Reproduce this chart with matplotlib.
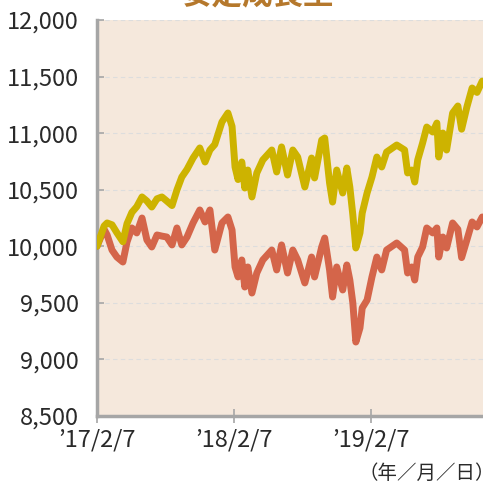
import numpy as np
import matplotlib.pyplot as plt
import matplotlib.dates as mdates

plt.rcParams['font.family'] = ['Noto Sans CJK JP', 'DejaVu Sans']

title = "安定成長型"
unit_note = "（年／月／日）"

dates = np.array([
    "2017-02-07", "2017-02-26", "2017-03-06", "2017-03-19", "2017-04-01",
    "2017-04-17", "2017-04-28", "2017-05-11", "2017-05-24", "2017-06-07",
    "2017-06-20", "2017-07-03", "2017-07-17", "2017-07-30", "2017-08-12",
    "2017-08-26", "2017-09-08", "2017-09-21", "2017-10-05", "2017-10-21",
    "2017-11-08", "2017-11-22", "2017-12-05", "2017-12-18", "2018-01-06",
    "2018-01-22", "2018-02-02", "2018-02-10", "2018-02-18", "2018-02-28",
    "2018-03-08", "2018-03-16", "2018-03-27", "2018-04-09", "2018-04-25",
    "2018-05-19", "2018-06-01", "2018-06-14", "2018-06-30", "2018-07-14",
    "2018-07-27", "2018-08-15", "2018-09-02", "2018-09-10", "2018-09-29",
    "2018-10-07", "2018-10-20", "2018-10-28", "2018-11-08", "2018-11-24",
    "2018-12-05", "2018-12-13", "2018-12-21", "2018-12-29", "2019-01-09",
    "2019-01-15", "2019-01-28", "2019-02-10", "2019-02-23", "2019-03-08",
    "2019-03-21", "2019-04-17", "2019-05-08", "2019-05-16", "2019-05-27",
    "2019-06-04", "2019-06-12", "2019-06-25", "2019-07-06", "2019-07-22",
    "2019-08-02", "2019-08-07", "2019-08-18", "2019-08-28", "2019-09-13",
    "2019-09-27", "2019-10-07", "2019-10-21", "2019-11-04", "2019-11-17",
    "2019-12-01",
], dtype="datetime64[D]")

# upper (yellow) series
series_a = [
    10000, 10180, 10206, 10190, 10120, 10040, 10200, 10300, 10350, 10436,
    10400, 10347, 10420, 10436, 10400, 10360, 10497, 10612, 10680, 10780,
    10869, 10745, 10851, 10900, 11098, 11178, 11060, 10700, 10590, 10745,
    10515, 10674, 10436, 10648, 10763, 10851, 10657, 10878, 10630, 10851,
    10789, 10524, 10780, 10604, 10939, 10957, 10559, 10391, 10674, 10471,
    10692, 10524, 10277, 9985, 10118, 10294, 10471, 10612, 10789, 10701,
    10833, 10895, 10851, 10648, 10674, 10568, 10763, 10913, 11054, 11010,
    11089, 10789, 11001, 10851, 11178, 11240, 11035, 11231, 11399, 11360,
    11460,
]

# lower (red) series
series_b = [
    10000, 10150, 10100, 9967, 9905, 9861, 10038, 10162, 10118, 10250,
    10056, 9994, 10100, 10090, 10082, 10012, 10162, 10012, 10082, 10206,
    10321, 10215, 10321, 9967, 10206, 10259, 10144, 9817, 9729, 9879,
    9640, 9817, 9587, 9764, 9879, 9967, 9791, 10012, 9764, 9967,
    9879, 9676, 9905, 9729, 9994, 10073, 9791, 9552, 9817, 9614,
    9835, 9702, 9499, 9154, 9278, 9455, 9525, 9729, 9905, 9791,
    9967, 10029, 9967, 9764, 9817, 9702, 9905, 9994, 10162, 10118,
    10162, 9905, 10082, 9985, 10206, 10150, 9900, 10056, 10215, 10171,
    10259,
]

y_ticks = [8500, 9000, 9500, 10000, 10500, 11000, 11500, 12000]
y_tick_labels = ["8,500", "9,000", "9,500", "10,000", "10,500", "11,000", "11,500", "12,000"]
x_ticks = np.array(["2017-02-07", "2018-02-07", "2019-02-07"], dtype="datetime64[D]")
x_tick_labels = ["’17/2/7", "’18/2/7", "’19/2/7"]

fig = plt.figure(figsize=(4.83, 4.86), dpi=100)
ax = fig.add_axes([97 / 483, 70 / 486, 386 / 483, 396 / 486])
ax.set_facecolor("#F5E8DC")

ax.plot(dates, series_b, color="#D4654A", lw=5, solid_joinstyle="round", solid_capstyle="round", zorder=3)
ax.plot(dates, series_a, color="#CDB300", lw=5, solid_joinstyle="round", solid_capstyle="round", zorder=4)

ax.set_ylim(8500, 12000)
ax.set_xlim(np.datetime64("2017-02-07"), np.datetime64("2019-12-03"))
ax.set_yticks(y_ticks)
ax.set_yticklabels(y_tick_labels)
ax.set_xticks(mdates.date2num(x_ticks))
ax.set_xticklabels(x_tick_labels)

ax.grid(axis="y", color="#DDDDDD", ls=(0, (4, 3)), lw=0.8, zorder=1)
for s in ["top", "right"]:
    ax.spines[s].set_visible(False)
ax.spines["left"].set_color("#A6A6A6")
ax.spines["left"].set_linewidth(2.5)
ax.spines["bottom"].set_color("#A6A6A6")
ax.spines["bottom"].set_linewidth(2.5)

ax.tick_params(axis="y", direction="in", length=5, width=1.2, color="#A6A6A6",
               labelsize=17, labelcolor="#2A2A2A", pad=13)
ax.tick_params(axis="x", direction="inout", length=10, width=1.2, color="#A6A6A6",
               labelsize=17, labelcolor="#2A2A2A", pad=4)

fig.text(258 / 483, 0.991, title, ha="center", va="baseline", fontsize=22,
         fontweight="bold", color="#B5782C")
fig.text(359 / 483, 13 / 486, unit_note, ha="left", va="center", fontsize=14, color="#2A2A2A")

fig.savefig("out.png", dpi=100)
